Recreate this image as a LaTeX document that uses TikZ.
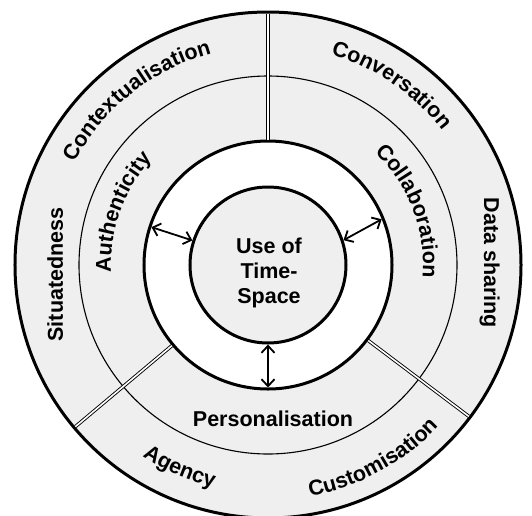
\documentclass[tikz,border=0pt]{standalone}
\usepackage{fontspec}
\setmainfont{Liberation Sans}
\usetikzlibrary{arrows.meta, decorations.text}

\definecolor{ringgray}{HTML}{EFEFEF}

\begin{document}
\begin{tikzpicture}[x = 1pt, y = 1pt, > = {Straight Barb[length = 7pt, width = 13pt]},
	label font/.style = {font = \fontsize{21.5}{25}\selectfont\bfseries},
	ring line/.style = {line width = 3pt},
	disc/.style = {circle, draw, ring line, inner sep = 0pt, outer sep = 0pt},
	divider/.style = {double, line width = 0.9pt, double distance = 1.6pt, shorten < = 1.5pt, shorten > = 1.5pt},
	link/.style = {<->, line width = 1.8pt, shorten < = 1.5pt, shorten > = 1.5pt},
	along/.style = {decorate, decoration = {text along path, text align = center,
		text = {|\fontsize{21.5}{25}\selectfont\bfseries|#1}}}]

	\useasboundingbox (-268, -250) rectangle (264, 265);

	% Rings
	
	\node (rim) [disc, fill = ringgray, minimum size = 506pt] at (0, 0) {};
	\draw [line width = 1.1pt] (0, 0) circle (189);
	\node (hub) [disc, fill = white, minimum size = 248pt] at (0, 0) {};
	\node (core) [disc, fill = ringgray, minimum size = 156pt] at (0, 0) {};
	
	% Dividers between the three sectors
	
	\draw [divider] (hub.90) -- (rim.90);
	\draw [divider] (hub.220) -- (rim.220);
	\draw [divider] (hub.323) -- (rim.323);
	
	% Links from the core
	
	\draw [link] (hub.162) -- (core.162);
	\draw [link] (hub.22) -- (core.18);
	\draw [link] (core.270) -- (hub.270);
	
	\node (use) [label font, align = center] at (1, -8) {Use of\\Time-\\Space};
	
	% Outer ring labels
	
	\path [along = Contextualisation] (158.5:219) arc [start angle = 158.5, end angle = 98.5, radius = 219];
	\path [along = Conversation] (85.5:220) arc [start angle = 85.5, end angle = 25.5, radius = 220];
	\path [along = Agency] (221.5:229) arc [start angle = 221.5, end angle = 271.5, radius = 229];
	\path [along = Customisation] (268.5:235) arc [start angle = 268.5, end angle = 328.5, radius = 235];
	\node (situ) [label font, rotate = 90, anchor = base] at (-205, -9.5) {Situatedness};
	\node (data) [label font, rotate = -90, anchor = base] at (216, 2) {Data sharing};
	
	% Middle ring labels
	
	\path [along = Authenticity] (190:157) arc [start angle = 190, end angle = 130, radius = 157];
	\path [along = Collaboration] (56:155) arc [start angle = 56, end angle = -14, radius = 155];
	\node (pers) [label font, anchor = base] at (5, -161) {Personalisation};

\end{tikzpicture}
\end{document}
